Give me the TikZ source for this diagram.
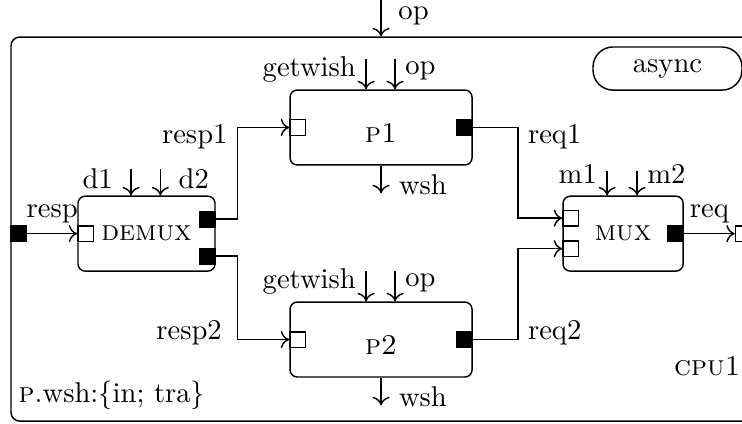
\documentclass[tikz,border=0pt]{standalone}
\usepackage{amsmath}
\usetikzlibrary{arrows.meta}
\usetikzlibrary{calc}
\tikzset{> = {To[length=3pt,width=6pt]},
  box/.style = {draw, rounded corners=2.5pt, minimum height=0.92cm, inner sep=0pt},
  pbox/.style = {box, minimum width=2.236cm, text height=10.5pt, text depth=0pt},
  inport/.style = {draw, fill=white, minimum size=0.19cm, inner sep=0pt},
  outport/.style = {inport, fill=black}}

\begin{document}
\begin{tikzpicture}[line width=0.5pt]
	\useasboundingbox (0,0) rectangle (9.115,-5.197);
	\clip (0,0) rectangle (9.115,-5.197);
	% component and its parts
	\node[draw, rounded corners=3pt, minimum width=9.091cm, minimum height=4.717cm] (cpu) at (4.681,-2.814) {};
	\node[pbox] (p1) at (4.681,-1.566) {\textsc{p1}};
	\node[pbox] (p2) at (4.681,-4.171) {\textsc{p2}};
	\node[box, minimum width=1.683cm] (demux) at (1.80,-2.87) {\textsc{demux}};
	\node[box, minimum width=1.475cm] (mux) at (7.654,-2.87) {\textsc{mux}};
	\node[draw, rounded corners=7pt, minimum width=1.83cm, minimum height=0.53cm] (async) at (8.2,-0.842) {async};
	\node[anchor=base east, inner sep=0pt] (cpuname) at (9.105,-4.607) {\textsc{cpu1}};
	\node[anchor=base west, inner sep=0pt] (wshset) at (0.221,-4.939) {\textsc{p}.wsh:$\{$in; tra$\}$};
	% ports
	\node[inport, anchor=west] (p1in) at (p1.west) {};
	\node[outport, anchor=east] (p1out) at (p1.east) {};
	\node[inport, anchor=west] (p2in) at (p2.west) {};
	\node[outport, anchor=east] (p2out) at (p2.east) {};
	\node[inport, anchor=west] (dmin) at (demux.west) {};
	\node[outport, anchor=east] (dmout1) at ($(demux.east)+(0,0.178)$) {};
	\node[outport, anchor=east] (dmout2) at ($(demux.east)+(0,-0.276)$) {};
	\node[inport, anchor=west] (muxin1) at ($(mux.west)+(0,0.19)$) {};
	\node[inport, anchor=west] (muxin2) at ($(mux.west)+(0,-0.185)$) {};
	\node[outport, anchor=east] (muxout) at (mux.east) {};
	\node[outport, anchor=west] (cpuin) at (cpu.west |- dmin) {};
	\node[inport, anchor=east] (cpuout) at (cpu.east |- muxout) {};
	% channels
	\draw[->] (cpuin) -- node[above]{resp} (dmin);
	\draw[->] (dmout1.east) -- ++(0.27,0) |- node[pos=.45,left]{resp1} (p1in.west);
	\draw[->] (dmout2.east) -- ++(0.27,0) |- node[pos=.46,left=2pt]{resp2} (p2in.west);
	\draw[->] (p1out.east) -- ++(0.553,0) |- node[pos=.05,right]{req1} (muxin1.west);
	\draw[->] (p2out.east) -- ++(0.553,0) |- node[pos=.04,right]{req2} (muxin2.west);
	\draw[->] (muxout) -- node[above]{req} (cpuout);
	% signals
	\draw[->] ($(cpu.north)+(0,0.45)$) -- (cpu.north) node[pos=.45,right=2.5pt]{op};
	\foreach \b in {p1,p2}{
	    \draw[->] ($(\b.north)+(-0.184,0.37)$) -- ($(\b.north)+(-0.184,0)$) node[pos=.33,left]{getwish};
	    \draw[->] ($(\b.north)+(0.172,0.37)$) -- ($(\b.north)+(0.172,0)$) node[pos=.39,right]{op};
	    \draw[->] (\b.south) -- ++(0,-0.34) node[pos=.7,right=2.7pt]{wsh};
	}
	\draw[->] ($(demux.north)+(-0.19,0.32)$) -- ($(demux.north)+(-0.19,0)$) node[pos=.37,left=2.8pt]{d1};
	\draw[->] ($(demux.north)+(0.17,0.32)$) -- ($(demux.north)+(0.17,0)$) node[pos=.37,right=2.8pt]{d2};
	\draw[->] ($(mux.north)+(-0.196,0.3)$) -- ($(mux.north)+(-0.196,0)$) node[pos=.1,left]{m1};
	\draw[->] ($(mux.north)+(0.172,0.3)$) -- ($(mux.north)+(0.172,0)$) node[pos=.1,right]{m2};
\end{tikzpicture}
\end{document}
